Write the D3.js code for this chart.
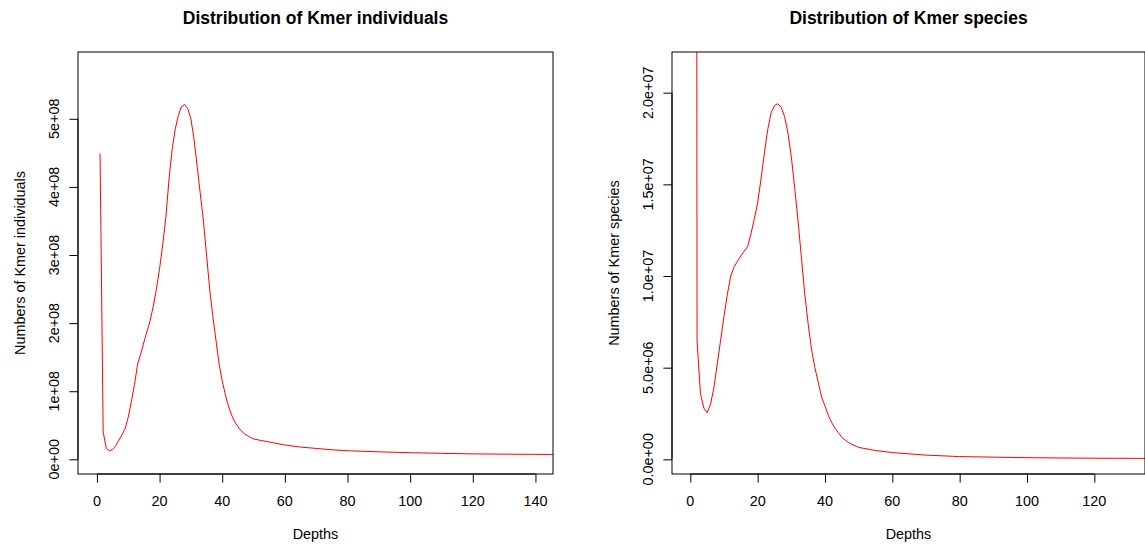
<!DOCTYPE html>
<html>
<head>
<meta charset="utf-8">
<script src="https://cdn.jsdelivr.net/npm/d3@7"></script>
<style>
  body { margin: 0; background: #fff; }
  svg { display: block; }
  text { font-family: "Liberation Sans", Arial, sans-serif; fill: #000; }
</style>
</head>
<body>
<div id="chart"></div>
<script>
// depths and counts
var indivDepth = [1, 2, 3, 4, 5, 6, 7, 8, 9, 10, 11, 12, 13, 14, 15, 16, 17, 18, 19, 20,
                  21, 22, 23, 24, 25, 26, 27, 28, 29, 30, 31, 32, 33, 34, 35, 36, 37, 38, 39, 40,
                  41, 42, 43, 44, 45, 46, 47, 48, 49, 50, 52, 55, 60, 65, 70, 75, 80, 90, 100,
                  110, 120, 130, 140, 146]
var indivCount = [4.49e8, 0.40e8, 0.16e8, 0.126e8, 0.14e8, 0.20e8, 0.28e8, 0.36e8, 0.45e8, 0.62e8,
                  0.85e8, 1.10e8, 1.40e8, 1.55e8, 1.72e8, 1.88e8, 2.04e8, 2.25e8, 2.50e8, 2.80e8,
                  3.15e8, 3.55e8, 4.10e8, 4.55e8, 4.85e8, 5.05e8, 5.18e8, 5.21e8, 5.15e8, 5.00e8,
                  4.70e8, 4.30e8, 3.90e8, 3.50e8, 3.00e8, 2.50e8, 2.10e8, 1.75e8, 1.40e8, 1.15e8,
                  0.95e8, 0.78e8, 0.65e8, 0.55e8, 0.48e8, 0.42e8, 0.38e8, 0.35e8, 0.32e8, 0.30e8,
                  0.28e8, 0.255e8, 0.21e8, 0.18e8, 0.16e8, 0.14e8, 0.126e8, 0.11e8, 0.097e8,
                  0.088e8, 0.08e8, 0.076e8, 0.073e8, 0.072e8]

var speciesDepth = [1, 2, 3, 4, 5, 6, 7, 8, 9, 10, 11, 12, 13, 14, 15, 16, 17, 18, 19, 20,
                    21, 22, 23, 24, 25, 26, 27, 28, 29, 30, 31, 32, 33, 34, 35, 36, 37, 38, 39, 40,
                    41, 42, 43, 44, 45, 46, 47, 48, 50, 55, 60, 70, 80, 100, 120, 140]
var speciesCount = [2.4e8, 6.5e6, 3.6e6, 2.8e6, 2.55e6, 3.0e6, 3.9e6, 5.2e6, 6.5e6, 7.8e6,
                    9.0e6, 10.0e6, 10.5e6, 10.8e6, 11.1e6, 11.35e6, 11.6e6, 12.3e6, 13.1e6, 14.0e6,
                    15.3e6, 16.7e6, 18.0e6, 18.9e6, 19.3e6, 19.4e6, 19.2e6, 18.7e6, 17.8e6, 16.5e6,
                    14.8e6, 13.0e6, 11.0e6, 9.0e6, 7.4e6, 6.0e6, 5.0e6, 4.2e6, 3.4e6, 2.9e6,
                    2.4e6, 2.0e6, 1.7e6, 1.45e6, 1.2e6, 1.05e6, 0.92e6, 0.82e6, 0.65e6, 0.48e6,
                    0.37e6, 0.23e6, 0.15e6, 0.09e6, 0.06e6, 0.05e6]

var xTicks = [0, 20, 40, 60, 80, 100, 120, 140]
var indivTicks = [0, 1e8, 2e8, 3e8, 4e8, 5e8]
var indivTickLabels = ["0e+00", "1e+08", "2e+08", "3e+08", "4e+08", "5e+08"]
var speciesTicks = [0, 5e6, 1e7, 1.5e7, 2e7]
var speciesTickLabels = ["0.0e+00", "5.0e+06", "1.0e+07", "1.5e+07", "2.0e+07"]

var width = 1145, height = 550

var svg = d3.select("#chart").append("svg")
    .attr("width", width)
    .attr("height", height)

function panel(opt) {
  var x = d3.scaleLinear().domain(opt.xDomain).range([opt.left, opt.right])
  var y = d3.scaleLinear().domain(opt.yDomain).range([opt.bottom, opt.top])
  var g = svg.append("g")

  g.append("clipPath").attr("id", opt.id + "_clip")
    .append("rect")
    .attr("x", opt.left).attr("y", opt.top)
    .attr("width", opt.right - opt.left).attr("height", opt.bottom - opt.top)

  var pts = d3.zip(opt.depth, opt.count)
  var line = d3.line().x(function(d){ return x(d[0]) }).y(function(d){ return y(d[1]) })
  g.append("path")
    .attr("d", line(pts))
    .attr("clip-path", "url(#" + opt.id + "_clip)")
    .attr("fill", "none")
    .attr("stroke", "#ff0000")
    .attr("stroke-width", 1)

  // box
  g.append("rect")
    .attr("x", opt.left).attr("y", opt.top)
    .attr("width", opt.right - opt.left).attr("height", opt.bottom - opt.top)
    .attr("fill", "none").attr("stroke", "#000").attr("stroke-width", 1)

  // x axis, line only from first to last visible tick like R
  var xt = opt.xTicks.filter(function(t){ return x(t) <= opt.right })
  var xa = g.append("g").attr("transform", "translate(0," + opt.bottom + ")")
    .call(d3.axisBottom(x).tickValues(xt).tickSize(8.6).tickSizeOuter(0).tickFormat(""))
  xa.select(".domain").attr("d", "M" + x(xt[0]) + ",0H" + x(xt[xt.length - 1]))
  xa.selectAll("line, path").attr("stroke", "#000")
  g.selectAll(null).data(xt).enter().append("text")
    .attr("x", function(d){ return x(d) })
    .attr("y", opt.bottom + 32)
    .attr("text-anchor", "middle")
    .style("font-size", "14.4px")
    .text(function(d){ return d })

  // y axis
  var ya = g.append("g").attr("transform", "translate(" + opt.left + ",0)")
    .call(d3.axisLeft(y).tickValues(opt.yTicks).tickSize(8.6).tickSizeOuter(0).tickFormat(""))
  ya.select(".domain").attr("d", "M0," + y(opt.yTicks[0]) + "V" + y(opt.yTicks[opt.yTicks.length - 1]))
  ya.selectAll("line, path").attr("stroke", "#000")
  g.selectAll(null).data(opt.yTicks).enter().append("text")
    .attr("transform", function(d){ return "translate(" + (opt.left - 19) + "," + y(d) + ") rotate(-90)" })
    .attr("text-anchor", "middle")
    .style("font-size", "14.4px")
    .text(function(d, i){ return opt.yLabels[i] })

  // titles
  var cx = (opt.left + opt.right) / 2
  g.append("text").attr("x", cx).attr("y", 24)
    .attr("text-anchor", "middle")
    .style("font-size", "17.5px").style("font-weight", "bold")
    .text(opt.title)
  g.append("text").attr("x", cx).attr("y", 539)
    .attr("text-anchor", "middle")
    .style("font-size", "14.4px")
    .text("Depths")
  g.append("text")
    .attr("transform", "translate(" + (opt.left - 53) + "," + ((opt.top + opt.bottom) / 2) + ") rotate(-90)")
    .attr("text-anchor", "middle")
    .style("font-size", "14.4px")
    .text(opt.yTitle)
}

panel({
  id: "indiv", left: 78, right: 553, top: 52, bottom: 474,
  xDomain: [-6.04, 145.6], yDomain: [-0.2155e8, 5.981e8],
  depth: indivDepth, count: indivCount,
  xTicks: xTicks, yTicks: indivTicks, yLabels: indivTickLabels,
  title: "Distribution of Kmer individuals", yTitle: "Numbers of Kmer individuals"
})

panel({
  id: "species", left: 672, right: 1145, top: 52, bottom: 474,
  xDomain: [-5.44, 135.05], yDomain: [-0.80e6, 22.22e6],
  depth: speciesDepth, count: speciesCount,
  xTicks: xTicks, yTicks: speciesTicks, yLabels: speciesTickLabels,
  title: "Distribution of Kmer species", yTitle: "Numbers of Kmer species"
})
</script>
</body>
</html>
